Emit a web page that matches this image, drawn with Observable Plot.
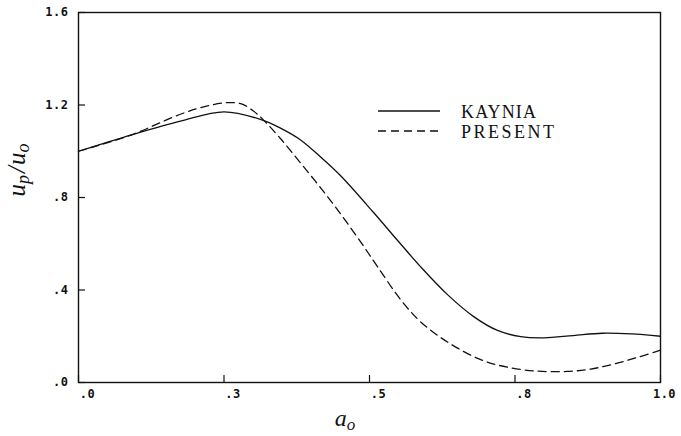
<!DOCTYPE html>
<html>
<head>
<meta charset="utf-8">
<script src="https://cdn.jsdelivr.net/npm/d3@7"></script>
<script src="https://cdn.jsdelivr.net/npm/@observablehq/plot@0.6"></script>
<style>
  body { margin: 0; background: #fff; }
  #chart { width: 681px; height: 436px; }
</style>
</head>
<body>
<div id="chart"></div>
<script>
// Normalised pile displacement u_p/u_o versus dimensionless frequency a_o
const aKaynia = [0, 0.09, 0.175, 0.25, 0.316, 0.347, 0.381, 0.416, 0.45, 0.507, 0.548, 0.588, 0.634, 0.679, 0.72, 0.76, 0.80, 0.85, 0.90, 0.95, 1.0];
const uKaynia = [1.0, 1.07, 1.13, 1.17, 1.135, 1.10, 1.05, 0.975, 0.895, 0.735, 0.615, 0.50, 0.38, 0.285, 0.225, 0.198, 0.193, 0.203, 0.213, 0.21, 0.20];

const aPresent = [0, 0.09, 0.175, 0.22, 0.255, 0.28, 0.30, 0.316, 0.347, 0.381, 0.416, 0.45, 0.485, 0.514, 0.553, 0.588, 0.634, 0.69, 0.737, 0.789, 0.84, 0.88, 0.92, 0.96, 1.0];
const uPresent = [1.0, 1.07, 1.16, 1.195, 1.21, 1.205, 1.175, 1.14, 1.055, 0.951, 0.842, 0.73, 0.607, 0.50, 0.36, 0.262, 0.175, 0.10, 0.066, 0.049, 0.048, 0.058, 0.08, 0.108, 0.14];

const xTicks = [0, 0.25, 0.5, 0.75, 1.0];
const xTickLabels = [".0", ".3", ".5", ".8", "1.0"];
const yTicks = [0, 0.4, 0.8, 1.2, 1.6];
const yTickLabels = [".0", ".4", ".8", "1.2", "1.6"];

const seriesNames = ["KAYNIA", "PRESENT"];
const seriesDash = [null, "8,5"];

const kaynia = aKaynia.map((a, i) => ({a, u: uKaynia[i]}));
const present = aPresent.map((a, i) => ({a, u: uPresent[i]}));

const W = 681, H = 436;
const mL = 78, mR = 21, mT = 12, mB = 54;
const tickLen = 7;
const innerW = W - mL - mR;
const innerH = H - mT - mB;
const ink = "#111";
const tickFont = {fontFamily: "'DejaVu Sans Mono', monospace", fontSize: 12, fontWeight: "bold"};

const plot = Plot.plot({
  width: W,
  height: H,
  marginLeft: mL,
  marginRight: mR,
  marginTop: mT,
  marginBottom: mB,
  style: {color: ink, background: "#fff"},
  x: {domain: [0, 1]},
  y: {domain: [0, 1.6]},
  marks: [
    Plot.frame({stroke: ink, strokeWidth: 1.4}),
    // inward-pointing ticks
    Plot.ruleX(xTicks, {x: d => d, insetTop: innerH - tickLen, stroke: ink, strokeWidth: 1.2}),
    Plot.ruleY(yTicks, {y: d => d, insetRight: innerW - tickLen, stroke: ink, strokeWidth: 1.2}),
    Plot.axisX(xTicks, {
      ...tickFont,
      tickSize: 0, tickPadding: 7, dx: 9, label: null,
      tickFormat: d => xTickLabels[xTicks.indexOf(d)]
    }),
    Plot.axisY(yTicks, {
      ...tickFont,
      tickSize: 0, tickPadding: 10, label: null,
      tickFormat: d => yTickLabels[yTicks.indexOf(d)]
    }),
    Plot.line(kaynia, {x: "a", y: "u", curve: "catmull-rom", stroke: ink, strokeWidth: 1.3}),
    Plot.line(present, {x: "a", y: "u", curve: "catmull-rom", stroke: ink, strokeWidth: 1.3, strokeDasharray: seriesDash[1]})
  ]
});

document.getElementById("chart").appendChild(plot);

const svg = d3.select(plot);
svg.selectAll("g[aria-label$='tick label'] text").attr("letter-spacing", "0.5px");
// nudge the last x label so it stays inside the right edge
const xLabels = svg.selectAll("g[aria-label='x-axis tick label'] text").nodes();
if (xLabels.length) d3.select(xLabels[xLabels.length - 1]).attr("dx", -5);

// legend
const legend = svg.append("g")
  .attr("font-family", "'Liberation Serif', 'Times New Roman', serif")
  .attr("font-size", 18)
  .attr("text-anchor", "start");
const legendRows = seriesNames.map((name, i) => ({name, dash: seriesDash[i], y: 111 + i * 20, width: [75, 93][i]}));
legendRows.forEach(r => {
  legend.append("line")
    .attr("x1", 378).attr("x2", 440)
    .attr("y1", r.y).attr("y2", r.y)
    .attr("stroke", ink).attr("stroke-width", 1.3)
    .attr("stroke-dasharray", r.dash);
  legend.append("text")
    .attr("x", 461).attr("y", r.y + 6.5)
    .attr("fill", ink)
    .attr("textLength", r.width)
    .attr("lengthAdjust", "spacing")
    .text(r.name);
});

// axis titles
const titles = svg.append("g")
  .attr("font-family", "'Liberation Serif', 'Times New Roman', serif")
  .attr("font-style", "italic")
  .attr("fill", ink);

const yTitle = titles.append("text")
  .attr("transform", "translate(25,170) rotate(-90)")
  .attr("text-anchor", "middle")
  .attr("font-size", 25);
yTitle.append("tspan").text("u");
yTitle.append("tspan").attr("font-size", 18).attr("dy", 4).text("p");
yTitle.append("tspan").attr("dy", -4).attr("dx", 2).text("/");
yTitle.append("tspan").attr("dx", 1).text("u");
yTitle.append("tspan").attr("font-size", 18).attr("dy", 4).text("o");

const xTitle = titles.append("text")
  .attr("x", 345).attr("y", 426)
  .attr("text-anchor", "middle")
  .attr("font-size", 24);
xTitle.append("tspan").text("a");
xTitle.append("tspan").attr("font-size", 17).attr("dy", 4).text("o");
</script>
</body>
</html>
